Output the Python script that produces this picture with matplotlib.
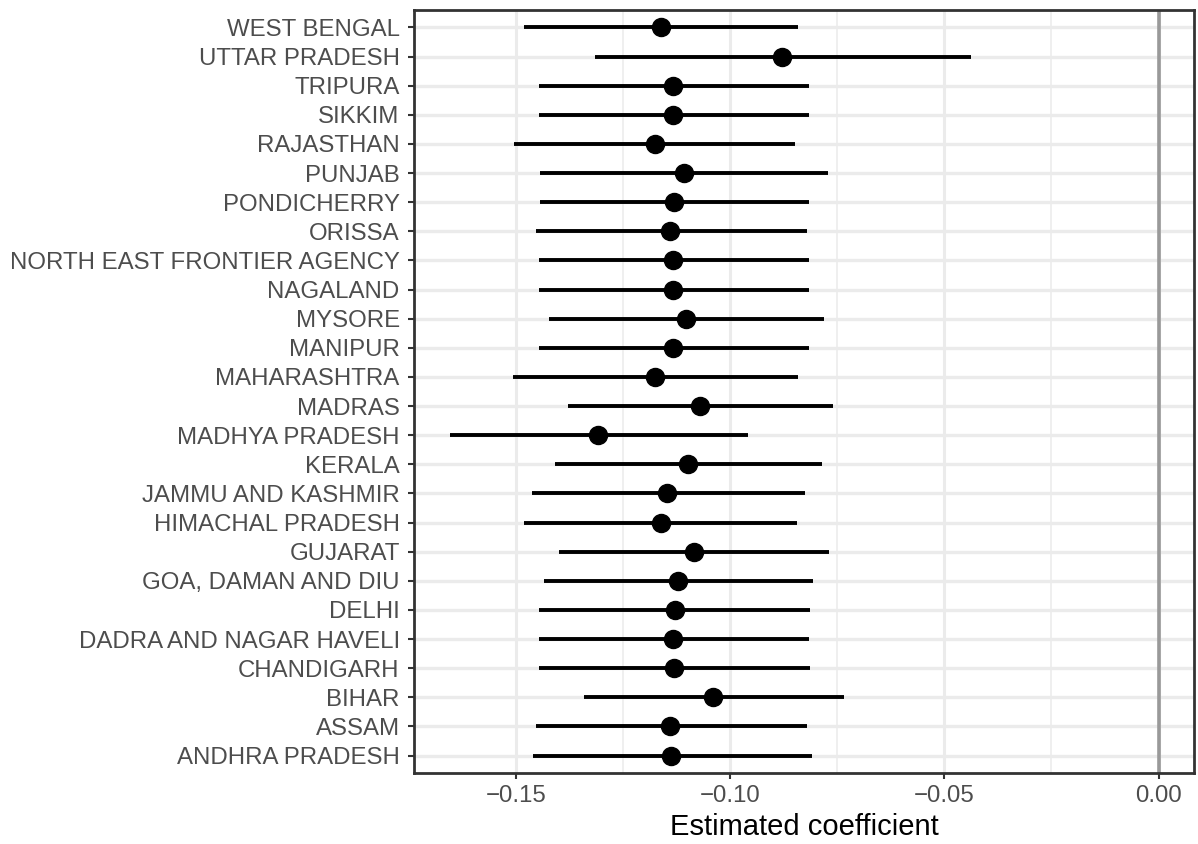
import numpy as np
import matplotlib.pyplot as plt

plt.rcParams['font.family'] = ['Liberation Sans', 'DejaVu Sans']

# states listed from bottom to top of the chart
states = ['ANDHRA PRADESH', 'ASSAM', 'BIHAR', 'CHANDIGARH', 'DADRA AND NAGAR HAVELI',
          'DELHI', 'GOA, DAMAN AND DIU', 'GUJARAT', 'HIMACHAL PRADESH', 'JAMMU AND KASHMIR',
          'KERALA', 'MADHYA PRADESH', 'MADRAS', 'MAHARASHTRA', 'MANIPUR', 'MYSORE',
          'NAGALAND', 'NORTH EAST FRONTIER AGENCY', 'ORISSA', 'PONDICHERRY', 'PUNJAB',
          'RAJASTHAN', 'SIKKIM', 'TRIPURA', 'UTTAR PRADESH', 'WEST BENGAL']

estimate = [-0.1138, -0.1140, -0.1040, -0.1131, -0.1133,
            -0.1129, -0.1123, -0.1086, -0.1163, -0.1147,
            -0.1100, -0.1309, -0.1071, -0.1175, -0.1133, -0.1104,
            -0.1133, -0.1133, -0.1140, -0.1132, -0.1109,
            -0.1176, -0.1133, -0.1133, -0.0880, -0.1161]

lower = [-0.1460, -0.1454, -0.1343, -0.1447, -0.1447,
         -0.1447, -0.1435, -0.1401, -0.1481, -0.1464,
         -0.1410, -0.1656, -0.1380, -0.1507, -0.1447, -0.1423,
         -0.1447, -0.1447, -0.1454, -0.1445, -0.1445,
         -0.1505, -0.1447, -0.1447, -0.1316, -0.1481]

upper = [-0.0810, -0.0822, -0.0735, -0.0813, -0.0816,
         -0.0813, -0.0807, -0.0769, -0.0844, -0.0826,
         -0.0785, -0.0959, -0.0760, -0.0842, -0.0816, -0.0782,
         -0.0816, -0.0816, -0.0822, -0.0816, -0.0773,
         -0.0850, -0.0816, -0.0816, -0.0437, -0.0842]

fig = plt.figure(figsize=(11.98, 8.44), dpi=100)
ax = fig.add_axes([0.3456, 0.0841, 0.6511, 0.9041])

y = np.arange(len(states))

# grid (theme_bw look)
for gx in [-0.125, -0.075, -0.025]:
    ax.axvline(gx, color='#EBEBEB', lw=1.1, zorder=0)
for gx in [-0.15, -0.10, -0.05, 0.0]:
    ax.axvline(gx, color='#EBEBEB', lw=2.2, zorder=0)
for gy in y:
    ax.axhline(gy, color='#EBEBEB', lw=2.4, zorder=0)

ax.axvline(0, color='#999999', lw=2.6, zorder=1)

ax.hlines(y, lower, upper, color='black', lw=2.8, zorder=2)
ax.plot(estimate, y, 'o', color='black', ms=13, zorder=3)

ax.set_xlim(-0.1739, 0.0083)
ax.set_ylim(-0.6, len(states) - 0.4)
ax.set_xticks([-0.15, -0.10, -0.05, 0.0])
ax.set_xticklabels(['\u22120.15', '\u22120.10', '\u22120.05', '0.00'])
ax.set_yticks(y)
ax.set_yticklabels(states)

ax.tick_params(axis='both', length=4.3, width=1.5, color='#333333',
               labelcolor='#4D4D4D', labelsize=17.3)
ax.tick_params(axis='y', pad=6)
ax.tick_params(axis='x', pad=4)
for s in ax.spines.values():
    s.set_color('#333333')
    s.set_linewidth(2.0)

ax.set_xlabel('Estimated coefficient', fontsize=21, color='black', labelpad=5)

fig.savefig('out.png', dpi=100)
